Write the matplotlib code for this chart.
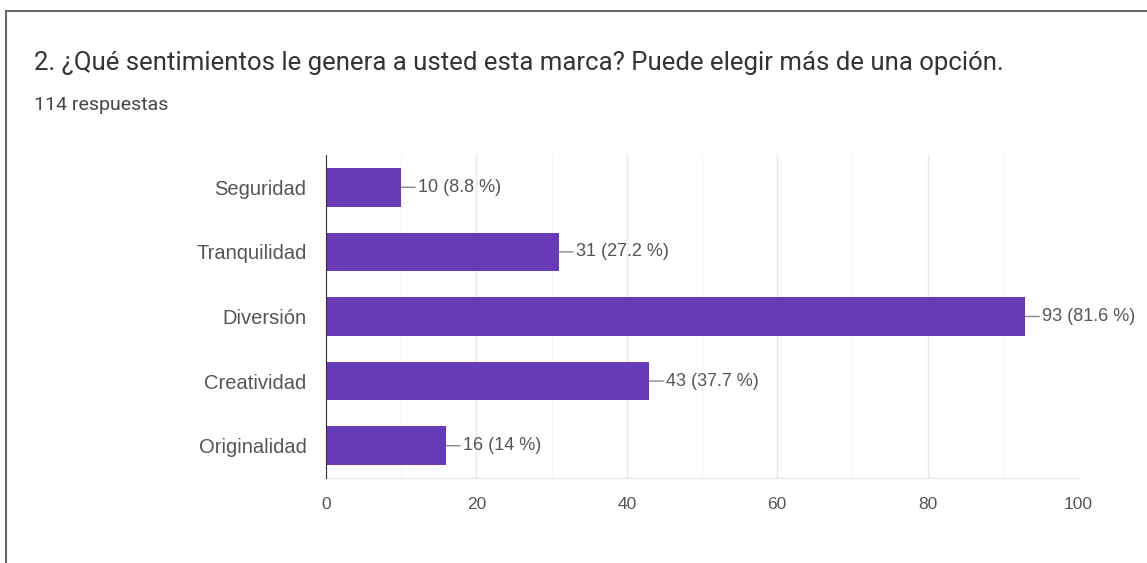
import matplotlib.pyplot as plt
from matplotlib.lines import Line2D
from matplotlib.ticker import MultipleLocator

# Respuestas por sentimiento
categories = ["Seguridad", "Tranquilidad", "Diversión", "Creatividad", "Originalidad"]
counts = [10, 31, 93, 43, 16]
percents = [8.8, 27.2, 81.6, 37.7, 14]
total_responses = 114
x_ticks = [0, 20, 40, 60, 80, 100]

purple = "#673ab7"
text_gray = "#555555"

fig = plt.figure(figsize=(11.47, 5.63), dpi=100)
fig.patch.set_facecolor("white")

# marco de la tarjeta (solo arriba e izquierda)
W, H = 1147, 563
fig.add_artist(Line2D([6 / W, 1], [1 - 11 / H, 1 - 11 / H], color="#6a6a6a", lw=1.5))
fig.add_artist(Line2D([6 / W, 6 / W], [0, 1 - 11 / H], color="#6a6a6a", lw=1.5))

fig.text(34 / W, 1 - 63 / H, "2. ¿Qué sentimientos le genera a usted esta marca? Puede elegir más de una opción.",
         fontsize=18.5, family="Roboto", color="#333333", va="center", ha="left")
fig.text(34 / W, 1 - 105 / H, f"{total_responses} respuestas",
         fontsize=14, family="Roboto", color="#444444", va="center", ha="left")

ax = fig.add_axes([326 / W, 1 - 478 / H, (1078 - 326) / W, (478 - 155) / H])
y = list(range(len(categories)))
ax.barh(y, counts, height=0.6, color=purple, zorder=3)

ax.set_xlim(0, 100)
ax.set_ylim(len(categories) - 0.5, -0.5)
ax.set_yticks(y)
ax.set_yticklabels(categories)
ax.set_xticks(x_ticks)
ax.xaxis.set_minor_locator(MultipleLocator(10))

ax.grid(axis="x", which="major", color="#e9e9e9", lw=1, zorder=0)
ax.grid(axis="x", which="minor", color="#f5f5f5", lw=1, zorder=0)

for side in ["top", "right"]:
    ax.spines[side].set_visible(False)
ax.spines["bottom"].set_color("#e6e6e6")
ax.spines["left"].set_color("#333333")
ax.spines["left"].set_zorder(4)

ax.tick_params(axis="both", which="both", length=0, colors=text_gray)
ax.tick_params(axis="y", pad=14, labelsize=14.5)
ax.tick_params(axis="x", pad=14, labelsize=12.5)
for lbl in ax.get_xticklabels() + ax.get_yticklabels():
    lbl.set_family("Liberation Sans")

for yi, c, p in zip(y, counts, percents):
    ax.annotate(f"{c} ({p:g} %)", xy=(c, yi), xytext=(12, 0), textcoords="offset points",
                va="center", ha="left", fontsize=13, family="Liberation Sans", color=text_gray,
                arrowprops=dict(arrowstyle="-", color="#888888", lw=1, shrinkA=0, shrinkB=0),
                annotation_clip=False)

fig.savefig("out.png", dpi=100)
